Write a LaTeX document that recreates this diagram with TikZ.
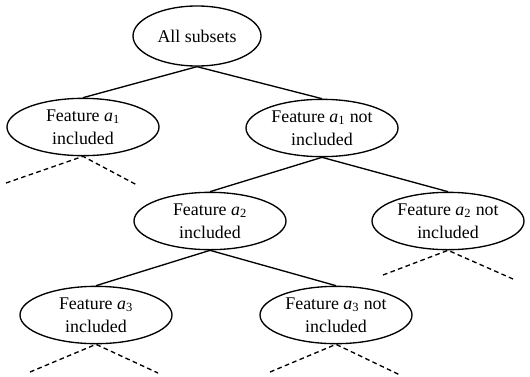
\documentclass[tikz,border=0pt]{standalone}
\usepackage{fontspec}
\setmainfont{Liberation Serif}
\usetikzlibrary{shapes.geometric, positioning}
\newcommand{\feat}[1]{\textit{a}\textsubscript{#1}}
\tikzset{
  subset/.style  = {ellipse, draw, line width=1pt, inner sep=0pt,
                    minimum width=114pt, minimum height=43pt, align=center,
                    font=\fontsize{13.4}{17.5}\selectfont},
  branch/.style  = {line width=1pt},
  pruned/.style  = {line width=1pt, dash pattern=on 3.5pt off 2.5pt},
}

\begin{document}
\begin{tikzpicture}[x=0.75pt,y=0.75pt]
  \useasboundingbox (0,0) rectangle (530,376);
  % subsets of the search space
  \node[subset, minimum width=96pt, minimum height=45pt] (root) at (197,340) {All subsets};
  \node[subset] (inA)  at (83,249)  {Feature \feat{1}\\included};
  \node[subset] (outA) at (322,248) {Feature \feat{1} not\\included};
  \node[subset] (inB)  at (210,155) {Feature \feat{2}\\included};
  \node[subset] (outB) at (448,155) {Feature \feat{2} not\\included};
  \node[subset] (inC)  at (96,61)   {Feature \feat{3}\\included};
  \node[subset] (outC) at (336,61)  {Feature \feat{3} not\\included};
  % branches that are followed
  \draw[branch] (root.south) -- (inA.north);
  \draw[branch] (root.south) -- (outA.north);
  \draw[branch] (outA.south) -- (inB.north);
  \draw[branch] (outA.south) -- (outB.north);
  \draw[branch] (inB.south) -- (inC.north);
  \draw[branch] (inB.south) -- (outC.north);
  % branches left open
  \coordinate (inAl) at (6,193);    \coordinate (inAr) at (137,191);
  \coordinate (outBl) at (383,101); \coordinate (outBr) at (513,97);
  \coordinate (inCl) at (30,4);     \coordinate (inCr) at (158,3);
  \coordinate (outCl) at (270,4);   \coordinate (outCr) at (400,1);
  \draw[pruned] (inAl) -- (inA.south) -- (inAr);
  \draw[pruned] (outBl) -- (outB.south) -- (outBr);
  \draw[pruned] (inCl) -- (inC.south) -- (inCr);
  \draw[pruned] (outCl) -- (outC.south) -- (outCr);
\end{tikzpicture}
\end{document}
